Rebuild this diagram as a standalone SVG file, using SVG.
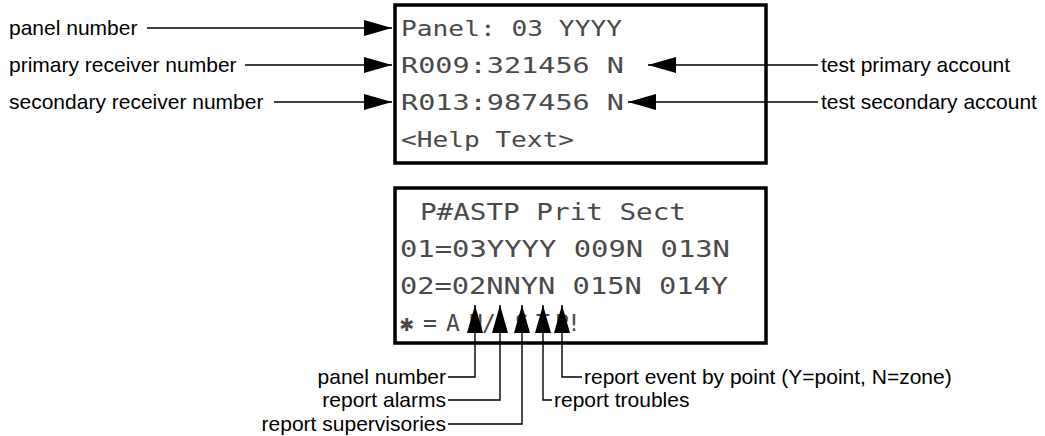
<svg xmlns="http://www.w3.org/2000/svg" width="1045" height="436" viewBox="0 0 1045 436">
<style>
.lbl{font-family:"Liberation Sans",Arial,sans-serif;font-size:21px;fill:#000}
.lcd{font-family:"DejaVu Sans Mono","Liberation Mono",monospace;font-size:22px;fill:#4a4a4a}
.lcd2{font-family:"DejaVu Sans Mono","Liberation Mono",monospace;font-size:23px;fill:#4a4a4a}
.box{fill:#fff;stroke:#000;stroke-width:3.5}
.con{fill:none;stroke:#000;stroke-width:1.4}
</style>
<defs>
<marker id="ah" viewBox="0 0 28 16" refX="28" refY="8" markerWidth="28" markerHeight="16" orient="auto" markerUnits="userSpaceOnUse">
<path d="M0,0 L28,8 L0,16 z" fill="#000"/>
</marker>
</defs>

<g id="lcd-top">
<rect class="box" x="395" y="5" width="371" height="158"/>
<text class="lcd" x="401" y="36" textLength="221" lengthAdjust="spacingAndGlyphs">Panel: 03 YYYY</text>
<text class="lcd" x="401" y="73" textLength="223" lengthAdjust="spacingAndGlyphs">R009:321456 N</text>
<text class="lcd" x="401" y="110" textLength="223" lengthAdjust="spacingAndGlyphs">R013:987456 N</text>
<text class="lcd" x="401" y="147" textLength="173" lengthAdjust="spacingAndGlyphs">&lt;Help Text&gt;</text>
</g>

<g id="lcd-bottom">
<rect class="box" x="395" y="188" width="371" height="155"/>
<text class="lcd2" x="420" y="220" textLength="266" lengthAdjust="spacingAndGlyphs">P#ASTP Prit Sect</text>
<text class="lcd2" x="400" y="257" textLength="330" lengthAdjust="spacingAndGlyphs">01=03YYYY 009N 013N</text>
<text class="lcd2" x="400" y="294" textLength="328" lengthAdjust="spacingAndGlyphs">02=02NNYN 015N 014Y</text>
<text class="lcd2" text-anchor="middle" x="407 430 453 476 489 500 522 543 562 574" y="331">✱=AN/ASTP!</text>
</g>

<g id="label-panel-number"><text class="lbl" x="9" y="35">panel number</text></g>
<g id="label-primary-receiver"><text class="lbl" x="9" y="72">primary receiver number</text></g>
<g id="label-secondary-receiver"><text class="lbl" x="9" y="109">secondary receiver number</text></g>
<g id="label-test-primary"><text class="lbl" x="821" y="72">test primary account</text></g>
<g id="label-test-secondary"><text class="lbl" x="821" y="109">test secondary account</text></g>
<g id="label-b-panel-number"><text class="lbl" x="446" y="384" text-anchor="end">panel number</text></g>
<g id="label-report-alarms"><text class="lbl" x="446" y="407" text-anchor="end">report alarms</text></g>
<g id="label-report-supervisories"><text class="lbl" x="446" y="431" text-anchor="end">report supervisories</text></g>
<g id="label-report-troubles"><text class="lbl" x="554" y="407">report troubles</text></g>
<g id="label-report-event"><text class="lbl" x="584" y="384">report event by point (Y=point, N=zone)</text></g>

<g id="connectors">
<line class="con" x1="147" y1="28" x2="392" y2="28" marker-end="url(#ah)"/>
<line class="con" x1="245" y1="65" x2="392" y2="65" marker-end="url(#ah)"/>
<line class="con" x1="274" y1="102" x2="392" y2="102" marker-end="url(#ah)"/>
<line class="con" x1="818" y1="65" x2="648" y2="65" marker-end="url(#ah)"/>
<line class="con" x1="818" y1="102" x2="628" y2="102" marker-end="url(#ah)"/>
<polyline class="con" points="448,377 475,377 475,305" marker-end="url(#ah)"/>
<polyline class="con" points="448,400 500,400 500,305" marker-end="url(#ah)"/>
<polyline class="con" points="448,424 522,424 522,305" marker-end="url(#ah)"/>
<polyline class="con" points="552,400 543,400 543,305" marker-end="url(#ah)"/>
<polyline class="con" points="582,377 562,377 562,305" marker-end="url(#ah)"/>
</g>
</svg>
